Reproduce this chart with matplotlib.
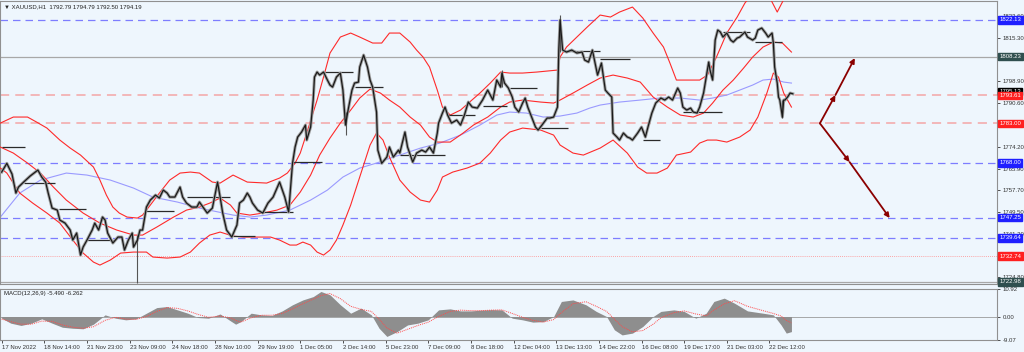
import matplotlib
matplotlib.use("Agg")
import matplotlib.pyplot as plt

plt.rcParams['font.family'] = ['Liberation Sans', 'DejaVu Sans']

# ---------------- data (bar index = hourly bars since 17 Nov 2022) ----------------
price_bars = [0, 4, 8, 11, 13, 17, 22, 28, 31, 34, 36, 39, 43, 45, 49, 53, 55, 58, 61, 63, 66, 70, 72, 75, 78, 80,
              82, 86, 90, 93, 95, 98, 101, 102, 105, 107, 109, 112, 115, 119, 122, 125, 128, 130, 134, 138, 140,
              143, 147, 151, 153, 159, 163, 167, 169, 171, 174, 178, 182, 184, 187, 190, 192, 194, 198, 202, 206,
              210, 215, 219, 222, 225, 227, 229, 232, 235, 236, 239, 241, 242, 244, 246, 249, 252, 254, 256, 259,
              262, 264, 266, 268, 271, 273, 276, 277, 280, 283, 285, 287, 290, 291, 294, 298, 300, 303, 307, 308,
              312, 314, 318, 321, 325, 328, 331, 334, 337, 338, 341, 343, 345, 348, 352, 355, 358, 361, 364, 368,
              372, 376, 378, 380, 383, 386, 387, 389, 392, 395, 397, 400, 403, 405, 407, 410, 413, 415, 418, 422,
              424, 427, 430, 431, 432, 434, 437, 441, 445, 449, 451, 454, 457, 461, 464, 467, 469, 472, 473, 476,
              478, 481, 484, 486, 488, 492, 495, 498, 500, 503, 506, 510, 513, 516, 519, 523, 525, 527, 530, 533,
              535, 538, 540, 543, 546, 547, 548, 550, 551, 552, 554, 556, 558, 561, 564, 566, 569, 571, 575, 577,
              581, 583, 585, 588, 591, 593, 596, 597, 598, 600, 601, 602, 604, 605, 606, 608, 609, 610, 612]
price_close = [1764.55, 1767.86, 1763.80, 1756.61, 1758.88, 1760.77, 1763.04, 1765.31, 1762.67, 1760.77, 1756.61,
               1750.93, 1750.17, 1746.39, 1745.25, 1742.61, 1738.82, 1741.47, 1733.14, 1736.17, 1738.82, 1742.61,
               1745.25, 1742.61, 1747.53, 1746.39, 1741.47, 1737.69, 1739.96, 1739.96, 1735.04, 1738.82, 1741.47,
               1736.17, 1738.82, 1742.61, 1742.61, 1751.31, 1753.96, 1755.85, 1754.72, 1757.74, 1756.61, 1755.10,
               1755.10, 1758.88, 1755.10, 1752.82, 1751.31, 1751.31, 1753.20, 1749.04, 1750.93, 1760.77, 1755.10,
               1749.04, 1742.61, 1739.96, 1744.50, 1752.82, 1753.96, 1756.61, 1755.10, 1752.82, 1750.17, 1749.04,
               1752.82, 1755.10, 1760.77, 1755.10, 1749.42, 1767.86, 1774.02, 1777.81, 1779.70, 1782.35, 1776.67,
               1781.59, 1791.81, 1800.51, 1802.41, 1801.27, 1802.41, 1799.38, 1797.49, 1796.73, 1800.51, 1802.03,
               1795.59, 1782.35, 1788.02, 1795.59, 1798.24, 1798.62, 1804.30, 1808.84, 1804.30, 1799.38, 1796.73,
               1787.27, 1772.88, 1767.86, 1770.24, 1774.02, 1770.24, 1772.88, 1771.75, 1779.70, 1774.02, 1768.34,
               1771.75, 1772.88, 1772.13, 1774.02, 1771.75, 1779.32, 1783.10, 1786.89, 1789.16, 1786.13, 1783.10,
               1784.24, 1782.35, 1786.13, 1791.05, 1789.16, 1788.78, 1791.81, 1795.59, 1793.70, 1791.81, 1799.38,
               1796.73, 1802.03, 1798.24, 1796.35, 1792.95, 1789.16, 1787.27, 1790.67, 1792.57, 1789.16, 1785.38,
               1781.59, 1780.45, 1782.35, 1785.00, 1785.00, 1785.38, 1789.16, 1810.73, 1822.09, 1810.73, 1809.98,
               1810.73, 1809.60, 1809.98, 1806.95, 1806.19, 1810.73, 1801.27, 1805.81, 1795.59, 1794.46, 1792.95,
               1779.32, 1777.81, 1776.67, 1779.32, 1777.81, 1777.43, 1776.67, 1779.32, 1781.59, 1777.81, 1781.59,
               1786.89, 1790.67, 1792.57, 1791.81, 1792.95, 1791.81, 1796.35, 1794.46, 1789.16, 1788.02, 1788.78,
               1787.27, 1786.89, 1789.16, 1794.46, 1803.16, 1806.19, 1803.16, 1799.38, 1806.95, 1814.52, 1818.30,
               1817.55, 1815.66, 1817.17, 1814.52, 1813.76, 1815.28, 1815.66, 1817.55, 1815.66, 1814.52, 1815.28,
               1818.30, 1819.06, 1817.17, 1815.66, 1817.17, 1813.39, 1804.30, 1798.24, 1792.95, 1791.81, 1785.38,
               1791.81, 1791.81, 1792.95, 1793.70, 1794.46, 1794.19]

wick_bars = [105, 266, 387, 432, 604]
wick_low = [1722.54, 1778.56, 1796.73, 1809.98, 1785.00]
wick_high = [1740.71, 1787.27, 1803.16, 1823.98, 1791.81]

upper_bars = [-1, 9, 20, 27, 35, 45, 53, 61, 71, 76, 81, 86, 91, 97, 105, 109, 115, 122, 130, 138, 146, 153, 163,
              169, 179, 190, 205, 215, 221, 227, 231, 236, 244, 249, 254, 262, 270, 277, 287, 294, 300, 308, 316,
              321, 326, 331, 337, 341, 347, 355, 362, 370, 378, 386, 393, 403, 414, 422, 430, 432, 437, 445, 453,
              463, 471, 478, 488, 496, 504, 512, 517, 522, 530, 540, 546, 553, 561, 569, 575, 583, 591, 596, 600,
              604, 610]
upper_vals = [1783.10, 1785.38, 1785.38, 1783.48, 1781.21, 1776.67, 1773.64, 1770.99, 1766.45, 1761.53, 1755.85,
              1751.31, 1749.04, 1747.53, 1747.15, 1748.28, 1752.07, 1756.61, 1761.53, 1764.18, 1764.56, 1764.18,
              1760.77, 1760.39, 1763.42, 1760.77, 1760.39, 1762.29, 1764.18, 1767.96, 1771.75, 1779.32, 1791.81,
              1800.51, 1809.60, 1815.66, 1817.17, 1815.66, 1813.39, 1813.39, 1817.17, 1817.17, 1813.76, 1810.73,
              1808.09, 1804.30, 1795.59, 1789.16, 1786.13, 1788.02, 1791.05, 1794.46, 1798.24, 1802.41, 1802.03,
              1802.03, 1802.41, 1802.79, 1803.16, 1808.09, 1811.87, 1815.66, 1819.44, 1823.98, 1823.23, 1825.12,
              1827.01, 1822.85, 1817.17, 1811.87, 1805.81, 1799.38, 1799.38, 1799.38, 1801.27, 1808.09, 1817.17,
              1823.23, 1828.52, 1833.45, 1833.45, 1828.90, 1825.12, 1828.90, 1835.34]

middle_bars = [-1, 9, 20, 30, 40, 50, 63, 76, 89, 102, 109, 120, 133, 143, 153, 161, 169, 177, 182, 192, 202, 213,
               223, 231, 239, 246, 254, 262, 270, 277, 285, 293, 300, 308, 316, 324, 331, 337, 347, 357, 365, 376,
               386, 393, 403, 417, 427, 432, 442, 453, 463, 473, 484, 494, 504, 515, 525, 535, 543, 550, 558, 566,
               574, 581, 589, 597, 604, 611]
middle_vals = [1774.02, 1771.75, 1767.96, 1764.18, 1758.88, 1753.96, 1749.04, 1745.25, 1742.61, 1740.71, 1740.71,
               1743.74, 1747.53, 1750.17, 1751.31, 1752.82, 1754.72, 1752.07, 1749.04, 1748.28, 1749.04, 1750.17,
               1752.07, 1756.99, 1763.42, 1770.99, 1777.43, 1783.10, 1788.02, 1792.57, 1795.97, 1794.46, 1791.81,
               1789.16, 1785.38, 1782.35, 1777.81, 1775.91, 1775.91, 1779.32, 1782.35, 1785.38, 1789.16, 1791.05,
               1791.81, 1791.05, 1790.67, 1791.81, 1794.46, 1797.49, 1800.14, 1801.27, 1800.14, 1798.62, 1792.95,
               1789.16, 1786.13, 1785.38, 1786.89, 1790.67, 1795.59, 1799.38, 1803.92, 1808.09, 1811.87, 1813.76,
               1813.39, 1809.98]

lower_bars = [-1, 4, 14, 24, 35, 45, 55, 63, 71, 76, 84, 92, 102, 112, 117, 128, 138, 146, 153, 161, 169, 179, 187,
              198, 208, 215, 223, 228, 233, 239, 244, 249, 254, 259, 264, 270, 275, 280, 285, 290, 295, 300, 308,
              316, 324, 331, 337, 341, 349, 360, 370, 378, 386, 393, 403, 417, 427, 432, 442, 450, 463, 473, 484,
              492, 499, 507, 515, 522, 533, 540, 546, 553, 561, 571, 579, 585, 592, 597, 601, 605, 611]
lower_vals = [1766.07, 1764.18, 1756.61, 1752.82, 1749.04, 1745.25, 1738.82, 1733.90, 1730.49, 1729.36, 1731.25,
              1733.90, 1734.28, 1734.28, 1732.39, 1732.01, 1732.39, 1734.28, 1737.69, 1740.71, 1741.85, 1740.33,
              1739.96, 1739.96, 1739.96, 1738.82, 1736.93, 1736.93, 1738.06, 1736.93, 1734.28, 1733.14, 1735.04,
              1738.82, 1744.50, 1752.07, 1759.64, 1767.21, 1774.78, 1779.32, 1776.67, 1770.24, 1761.53, 1756.99,
              1753.96, 1753.20, 1757.74, 1762.67, 1764.56, 1766.07, 1767.96, 1771.75, 1776.67, 1779.70, 1781.21,
              1780.45, 1778.56, 1774.78, 1771.75, 1770.99, 1773.64, 1776.67, 1771.75, 1766.45, 1764.18, 1764.18,
              1766.07, 1770.99, 1772.13, 1775.53, 1776.67, 1776.67, 1775.91, 1777.81, 1780.45, 1785.38, 1794.46,
              1802.03, 1800.51, 1794.46, 1789.16]

ma_bars = [-1, 14, 30, 50, 66, 84, 102, 117, 136, 153, 179, 192, 205, 223, 239, 252, 264, 277, 290, 303, 308, 324,
           339, 355, 370, 383, 393, 406, 419, 432, 445, 455, 463, 478, 494, 509, 525, 540, 550, 561, 571, 581, 589,
           597, 605, 611]
ma_vals = [1747.53, 1756.61, 1761.53, 1764.18, 1763.42, 1761.53, 1758.50, 1755.10, 1753.20, 1750.93, 1748.28,
           1747.53, 1748.28, 1750.17, 1753.96, 1757.74, 1762.67, 1766.07, 1767.96, 1770.24, 1770.99, 1773.64,
           1775.53, 1778.56, 1782.35, 1786.13, 1787.27, 1786.89, 1785.38, 1785.76, 1786.89, 1788.78, 1789.92,
           1791.05, 1791.81, 1792.57, 1792.57, 1791.81, 1792.57, 1793.70, 1795.59, 1797.49, 1799.38, 1799.76,
           1798.62, 1798.24]

# day-open level segments
seg_start = [0, 17, 44, 66, 112, 143, 179, 201, 225, 250, 273, 308, 345, 372, 393, 417, 434, 463, 496, 527, 558, 583]
seg_end = [18, 41, 65, 88, 133, 177, 196, 225, 248, 272, 295, 343, 366, 391, 414, 438, 463, 486, 509, 557, 579, 604]
seg_price = [1774.02, 1760.39, 1750.55, 1738.82, 1749.80, 1755.10, 1740.33, 1749.42, 1768.34, 1802.41, 1796.73,
             1771.00, 1786.13, 1789.54, 1796.35, 1781.21, 1810.35, 1807.33, 1776.67, 1787.27, 1817.55, 1813.76]

# horizontal levels
level_prices = [1822.13, 1808.23, 1793.61, 1783.00, 1768.00, 1747.25, 1739.64, 1732.74, 1722.98]
level_kinds = ['blue', 'gray', 'red', 'red', 'blue', 'blue', 'blue', 'reddot', 'gray']

box_prices = [1822.13, 1808.23, 1795.13, 1793.61, 1783.00, 1768.00, 1747.25, 1739.64, 1732.74, 1722.98]
box_colors = ['#1f1fff', '#2f4f4f', '#000000', '#ff1f1f', '#ff1f1f', '#1f1fff', '#1f1fff', '#1f1fff', '#ff1f1f',
              '#2f4f4f']

# projection arrows: start, mid, end
arrow_up_bars = [633, 645, 660]
arrow_up_prices = [1783.00, 1793.70, 1807.71]
arrow_dn_bars = [633, 656, 687]
arrow_dn_prices = [1783.00, 1768.34, 1747.15]

price_ticks = [1823.60, 1815.30, 1807.10, 1798.90, 1790.60, 1782.40, 1774.20, 1765.90, 1757.70, 1749.50, 1741.20,
               1733.00, 1724.80]
hidden_ticks = [1807.10, 1782.40, 1733.00]   # covered by the price boxes in the reference

x_tick_bars = [0, 33, 66, 99, 132, 165, 198, 231, 264, 297, 330, 363, 396, 429, 462, 495, 528, 561, 594]
x_tick_labels = ["17 Nov 2022", "18 Nov 14:00", "21 Nov 23:00", "23 Nov 09:00", "24 Nov 18:00", "28 Nov 10:00",
                 "29 Nov 19:00", "1 Dec 05:00", "2 Dec 14:00", "5 Dec 23:00", "7 Dec 09:00", "8 Dec 18:00",
                 "12 Dec 04:00", "13 Dec 13:00", "14 Dec 22:00", "16 Dec 08:00", "19 Dec 17:00", "21 Dec 03:00",
                 "22 Dec 12:00"]

macd_bars = [0, 7, 15, 23, 31, 39, 47, 55, 63, 71, 80, 88, 96, 104, 112, 120, 128, 136, 144, 152, 160, 169, 177,
             181, 185, 193, 201, 209, 217, 225, 233, 241, 247, 254, 262, 270, 278, 286, 292, 298, 306, 314, 322, 330,
             338, 347, 355, 363, 371, 379, 387, 395, 403, 411, 419, 427, 433, 442, 452, 460, 468, 474, 480, 488, 496,
             504, 510, 520, 528, 537, 545, 551, 559, 567, 577, 589, 597, 603, 607, 611]
macd_hist = [-0.65, -2.6, -3.5, -2.6, -0.9, -2.6, -4.2, -4.6, -4.8, -3.0, 0.65, -0.65, -1.3, -0.9, 1.3, 3.5, 3.9,
             2.6, 1.3, -0.4, -0.65, 1.0, -1.7, -3.0, -2.0, 1.3, 0.65, 0.4, 2.2, 4.6, 6.5, 7.8, 9.8, 8.5, 4.6, 1.3,
             3.3, 0.65, -4.6, -7.8, -5.9, -3.3, -2.6, -1.3, 2.6, 3.0, 2.2, 2.2, 2.5, 2.7, 2.6, -0.65, -1.3, -2.2,
             -2.0, 0.0, 5.9, 6.5, 4.6, 2.0, 0.0, -5.2, -7.2, -6.5, -3.9, 0.0, 2.0, 2.6, 2.0, -0.65, 1.3, 5.9, 7.2,
             5.2, 2.2, 1.3, 0.65, -3.3, -6.5, -5.9]
macd_signal = [-1.0, -2.0, -3.0, -3.0, -1.8, -1.9, -3.3, -4.2, -4.6, -4.0, -1.5, -0.3, -1.0, -1.1, 0.0, 2.0, 3.5,
               3.2, 2.2, 0.8, -0.3, 0.2, -0.5, -1.5, -2.2, -0.5, 0.5, 0.5, 1.2, 3.0, 5.0, 6.8, 8.2, 9.0, 7.0, 4.0,
               2.8, 2.0, -1.0, -4.5, -6.5, -5.0, -3.5, -2.2, 0.0, 2.0, 2.5, 2.3, 2.3, 2.5, 2.6, 1.2, -0.3, -1.5,
               -2.2, -1.2, 1.5, 5.0, 5.8, 4.0, 2.0, -1.0, -4.0, -6.0, -5.5, -3.0, -0.5, 1.5, 2.2, 1.0, 0.3, 2.5, 5.0,
               6.2, 4.0, 2.3, 1.2, 0.2, -1.5, -2.5]
macd_ticks = [10.92, 0.00, -9.07]

# ---------------- drawing ----------------
BG = '#eef6fd'
FS = 4.3
fig = plt.figure(figsize=(10.24, 3.52), dpi=100, facecolor=BG)
ax = fig.add_axes([0.0, 0.193, 0.9736, 0.804], facecolor=BG)
axm = fig.add_axes([0.0, 0.035, 0.9736, 0.145], facecolor=BG, sharex=ax)

ax.set_xlim(-1.3, 770)
ax.set_ylim(1722.17, 1829.28)

styles = {
    'blue': dict(color='#7d7dff', lw=0.9, ls=(0, (6, 4))),
    'red': dict(color='#f4a6a6', lw=1.1, ls=(0, (6, 4))),
    'gray': dict(color='#a8a8a8', lw=0.9, ls='-'),
    'reddot': dict(color='#ff8a8a', lw=0.6, ls=(0, (1, 1.5))),
}
for p, k in zip(level_prices, level_kinds):
    ax.axhline(p, zorder=1, **styles[k])

ax.plot(ma_bars, ma_vals, color='#9a9aff', lw=0.8, zorder=2)
for bx, vals in ((upper_bars, upper_vals), (middle_bars, middle_vals), (lower_bars, lower_vals)):
    ax.plot(bx, vals, color='#ff2a2a', lw=0.8, zorder=3)

ax.hlines(seg_price, seg_start, seg_end, color='#2a2a2a', lw=0.9, zorder=4)
ax.plot(price_bars, price_close, color='#a0a0a0', lw=2.2, zorder=4)
ax.plot(price_bars, price_close, color='#1a1a1a', lw=0.9, zorder=5)
ax.vlines(wick_bars, wick_low, wick_high, color='#555555', lw=0.8, zorder=4)

arrow_kw = dict(arrowstyle='-|>', color='#8b0000', lw=1.3, mutation_scale=7, shrinkA=0, shrinkB=0)
for bx, py in ((arrow_up_bars, arrow_up_prices), (arrow_dn_bars, arrow_dn_prices)):
    for i in range(len(bx) - 1):
        ax.annotate('', xy=(bx[i + 1], py[i + 1]), xytext=(bx[i], py[i]), arrowprops=arrow_kw, zorder=6)

ax.yaxis.tick_right()
ax.set_yticks(price_ticks)
ax.set_yticklabels(["" if t in hidden_ticks else f"{t:.2f}" for t in price_ticks])
ax.tick_params(axis='y', labelsize=FS, length=2.5, pad=1.5, colors='#333333', width=0.6)
ax.tick_params(axis='x', bottom=False, labelbottom=False)

for p, c in zip(box_prices, box_colors):
    ax.text(1.0025, p, f"{p:.2f}", transform=ax.get_yaxis_transform(), fontsize=FS, color='white',
            va='center', ha='left', zorder=10, clip_on=False,
            bbox=dict(boxstyle='square,pad=0.2', fc=c, ec=c))

ax.text(0.004, 0.99, "\u25bc XAUUSD,H1  1792.79 1794.79 1792.50 1794.19", transform=ax.transAxes,
        fontsize=FS, va='top', ha='left', color='#222222')

for a in (ax, axm):
    for s in a.spines.values():
        s.set_color('#909090')
        s.set_linewidth(0.8)

# MACD panel
axm.set_ylim(-9.07, 10.92)
axm.fill_between(macd_bars, 0, macd_hist, color='#8e8e8e', lw=0, zorder=2)
axm.axhline(0, color='#9a9a9a', lw=0.6, zorder=1)
axm.plot(macd_bars, macd_signal, color='#ff4a4a', lw=0.7, ls=(0, (1, 1)), zorder=3)
axm.yaxis.tick_right()
axm.set_yticks(macd_ticks)
axm.set_yticklabels([f"{t:.2f}" for t in macd_ticks])
axm.tick_params(axis='y', labelsize=FS, length=2.5, pad=1.5, colors='#333333', width=0.6)
axm.set_xticks(x_tick_bars)
axm.set_xticklabels(x_tick_labels)
axm.tick_params(axis='x', labelsize=FS, length=2.5, pad=1.5, colors='#333333', width=0.6)
for lab in axm.get_xticklabels():
    lab.set_horizontalalignment('left')
axm.text(0.004, 0.95, "MACD(12,26,9) -5.490 -6.262", transform=axm.transAxes, fontsize=FS,
         va='top', ha='left', color='#222222')

fig.savefig('out.png', dpi=100, facecolor=BG)
